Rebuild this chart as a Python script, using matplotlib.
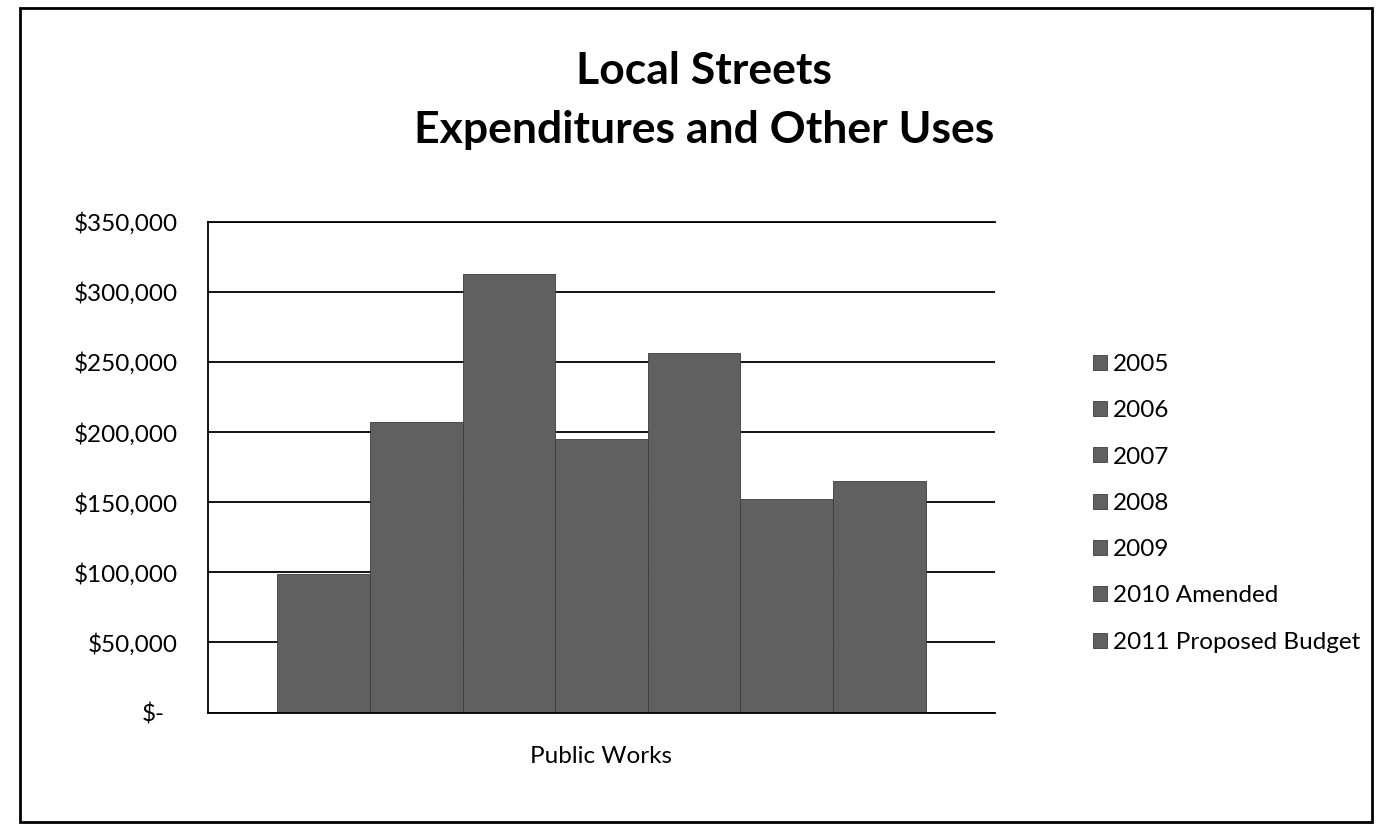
import numpy as np
import matplotlib
matplotlib.use("Agg")
import matplotlib.pyplot as plt
import matplotlib.transforms as mtransforms
from matplotlib.patches import Rectangle
from matplotlib.ticker import FuncFormatter

plt.rcParams['font.family'] = ['Lato', 'DejaVu Sans']

# Local Streets fund - Public Works spending per budget year
years = ["2005", "2006", "2007", "2008", "2009", "2010 Amended", "2011 Proposed Budget"]
spending = [99000, 207000, 313000, 195000, 256000, 152000, 165000]
category = "Public Works"
y_ticks = [0, 50000, 100000, 150000, 200000, 250000, 300000, 350000]

bar_gray = "#606060"
label_size = 17.5

fig = plt.figure(figsize=(13.8, 8.35), dpi=100)
ax = fig.add_axes([0.1507, 0.1466, 0.5703, 0.588])

# one cluster, seven series side by side (Excel style clustered column)
offsets = np.arange(len(years)) - (len(years) - 1) / 2
for off, yr, val in zip(offsets, years, spending):
    ax.bar(off, val, width=1.0, color=bar_gray, edgecolor="#3c3c3c",
           linewidth=0.6, label=yr, zorder=2)

ax.set_xlim(offsets[0] - 0.5 - 0.75, offsets[-1] + 0.5 + 0.75)
ax.set_ylim(0, 350000)
ax.set_yticks(y_ticks)
ax.yaxis.set_major_formatter(
    FuncFormatter(lambda v, p: "$-" if v == 0 else f"${v:,.0f}"))
ax.set_xticks([0])
ax.set_xticklabels([category])
ax.tick_params(axis='both', length=0, labelsize=label_size, colors='black')
ax.tick_params(axis='y', pad=22)
ax.tick_params(axis='x', pad=24)

ax.grid(axis='y', color='black', linewidth=1.3)
ax.set_axisbelow(True)
ax.spines['right'].set_visible(False)
for side in ['top', 'left', 'bottom']:
    ax.spines[side].set_linewidth(1.3)
    ax.spines[side].set_color('black')

# accounting format puts the dash a bit further left
fig.canvas.draw()
zero_lbl = ax.get_yticklabels()[0]
zero_lbl.set_transform(zero_lbl.get_transform() +
                       mtransforms.ScaledTranslation(-0.13, 0, fig.dpi_scale_trans))

fig.text(0.51, 1 - 84 / 835, "Local Streets", ha='center', va='baseline',
         fontsize=32, fontweight='bold')
fig.text(0.51, 1 - 143 / 835, "Expenditures and Other Uses", ha='center',
         va='baseline', fontsize=32, fontweight='bold')

ax.legend(loc='upper left', bbox_to_anchor=(1093 / 1380, 1 - 354 / 835),
          bbox_transform=fig.transFigure, frameon=False, fontsize=label_size,
          handlelength=0.57, handleheight=0.57, handletextpad=0.25,
          labelspacing=1.04, borderpad=0, borderaxespad=0)

# border around the whole chart area
fig.patches.append(Rectangle((0.0145, 0.0156), 0.9797, 0.9748,
                             transform=fig.transFigure, fill=False,
                             edgecolor='black', linewidth=2))

fig.savefig("out.png", dpi=100)
